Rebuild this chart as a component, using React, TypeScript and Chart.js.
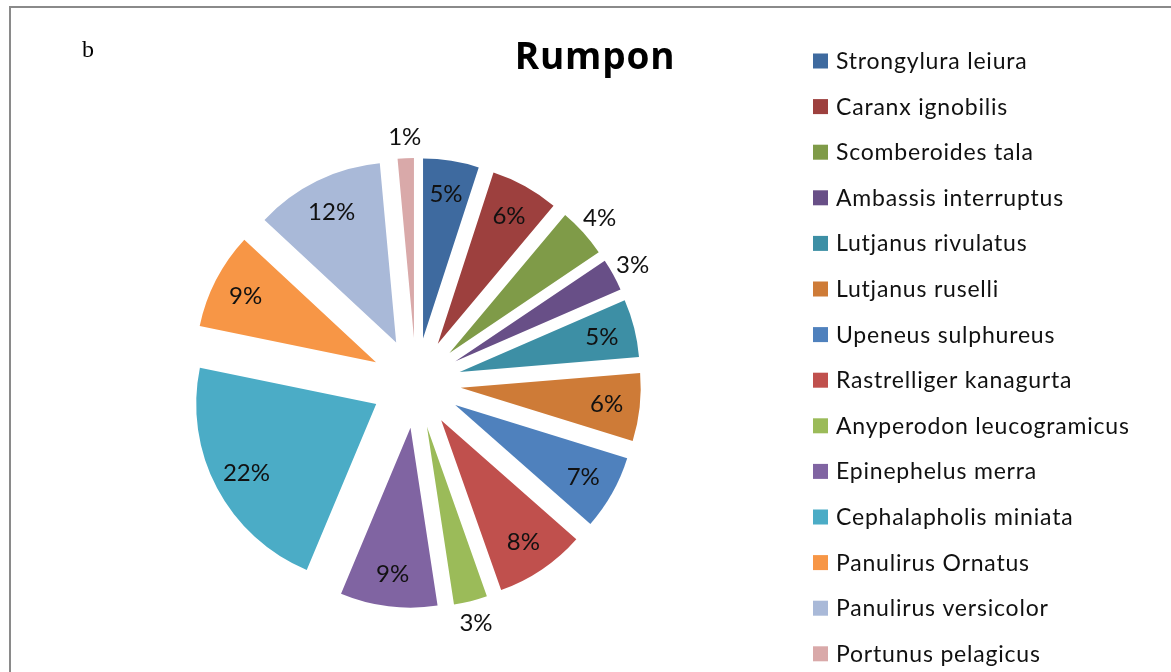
import React, { useEffect, useRef } from 'react';
import { Chart, registerables } from 'chart.js';

Chart.register(...registerables);

// ---- data ----
const speciesLabels = [
  'Strongylura leiura',
  'Caranx ignobilis',
  'Scomberoides tala',
  'Ambassis interruptus',
  'Lutjanus rivulatus',
  'Lutjanus ruselli',
  'Upeneus sulphureus',
  'Rastrelliger kanagurta',
  'Anyperodon leucogramicus',
  'Epinephelus merra',
  'Cephalapholis miniata',
  'Panulirus Ornatus',
  'Panulirus versicolor',
  'Portunus pelagicus',
];
// share of catch (%)
const catchShare = [5.0, 6.1, 4.45, 2.9, 5.2, 6.1, 6.7, 8.1, 3.0, 8.7, 21.9, 8.7, 11.6, 1.45];
const chartTitle = 'Rumpon';
const panelLetter = 'b';

// ---- styles ----
const sliceColors = [
  '#3E6A9F', '#9D403E', '#7F9B48', '#684F87', '#3D8FA5', '#CE7B37',
  '#4F81BD', '#C0504D', '#9BBB59', '#8064A2', '#4BACC6', '#F79646',
  '#A9B9D8', '#D9A9A9',
];
const EXPLODE = 45;
const PIE_RADIUS = 180;
const W = 1171;
const H = 672;
const SANS = 'Lato, "Open Sans", sans-serif';

const explodePlugin = {
  id: 'explodeSlices',
  afterDatasetsUpdate(chart: any) {
    const meta = chart.getDatasetMeta(0);
    meta.data.forEach((arc: any) => {
      const mid = (arc.startAngle + arc.endAngle) / 2;
      arc.x += Math.cos(mid) * EXPLODE;
      arc.y += Math.sin(mid) * EXPLODE;
    });
  },
};

const percentLabelPlugin = {
  id: 'percentLabels',
  afterDatasetsDraw(chart: any) {
    const ctx = chart.ctx;
    const meta = chart.getDatasetMeta(0);
    const values: number[] = chart.data.datasets[0].data;
    const total = values.reduce((a, b) => a + b, 0);
    const size = 24;
    ctx.save();
    ctx.font = `${size}px ${SANS}`;
    ctx.fillStyle = '#111';
    ctx.textAlign = 'center';
    ctx.textBaseline = 'alphabetic';
    meta.data.forEach((arc: any, i: number) => {
      const pct = Math.round((values[i] / total) * 100);
      const mid = (arc.startAngle + arc.endAngle) / 2;
      const outside = pct <= 4;
      const r = outside ? arc.outerRadius + 22 : arc.outerRadius * 0.815;
      const x = arc.x + Math.cos(mid) * r;
      const y = arc.y + Math.sin(mid) * r;
      ctx.fillText(pct + '%', x, y + size * 0.36);
    });
    ctx.restore();
  },
};

const decorPlugin = {
  id: 'decor',
  afterDraw(chart: any) {
    const ctx = chart.ctx;
    ctx.save();
    // frame
    ctx.strokeStyle = '#8a8a8a';
    ctx.lineWidth = 2;
    ctx.beginPath();
    ctx.moveTo(10, H);
    ctx.lineTo(10, 7);
    ctx.lineTo(W, 7);
    ctx.stroke();
    // panel letter
    ctx.fillStyle = '#000';
    ctx.font = '24px "Liberation Serif", serif';
    ctx.textAlign = 'left';
    ctx.textBaseline = 'alphabetic';
    ctx.fillText(panelLetter, 82, 57);
    // title
    ctx.font = `bold 37px "Open Sans", sans-serif`;
    (ctx as any).letterSpacing = '0.8px';
    ctx.textAlign = 'center';
    ctx.fillText(chartTitle, 595, 69);
    // legend
    const labels: string[] = chart.data.labels;
    const colors: string[] = chart.data.datasets[0].backgroundColor;
    ctx.font = `23px ${SANS}`;
    (ctx as any).letterSpacing = '0.8px';
    ctx.textAlign = 'left';
    labels.forEach((lab, i) => {
      const cy = 61 + 45.6 * i;
      ctx.fillStyle = colors[i];
      ctx.fillRect(813, cy - 7.5, 15, 15);
      ctx.fillStyle = '#111';
      ctx.fillText(lab, 836, cy + 8);
    });
    (ctx as any).letterSpacing = '0px';
    ctx.restore();
  },
};

export default function App() {
  const canvasRef = useRef<HTMLCanvasElement | null>(null);

  useEffect(() => {
    document.body.style.margin = '0';
    document.body.style.overflow = 'hidden';
    const canvas = canvasRef.current;
    if (!canvas) return;
    const chart = new Chart(canvas, {
      type: 'pie',
      data: {
        labels: speciesLabels,
        datasets: [
          {
            data: catchShare,
            backgroundColor: sliceColors,
            borderWidth: 0,
          },
        ],
      },
      options: {
        responsive: false,
        animation: false,
        devicePixelRatio: 1,
        radius: PIE_RADIUS,
        layout: {
          padding: { left: 236, right: W - 596, top: 203, bottom: H - 563 },
        },
        plugins: {
          legend: { display: false },
          title: { display: false },
          tooltip: { enabled: false },
        },
        events: [],
      },
      plugins: [explodePlugin, percentLabelPlugin, decorPlugin],
    });
    return () => chart.destroy();
  }, []);

  return (
    <div style={{ width: W, height: H, background: '#fff' }}>
      <canvas ref={canvasRef} width={W} height={H} style={{ display: 'block', width: W, height: H }} />
    </div>
  );
}
